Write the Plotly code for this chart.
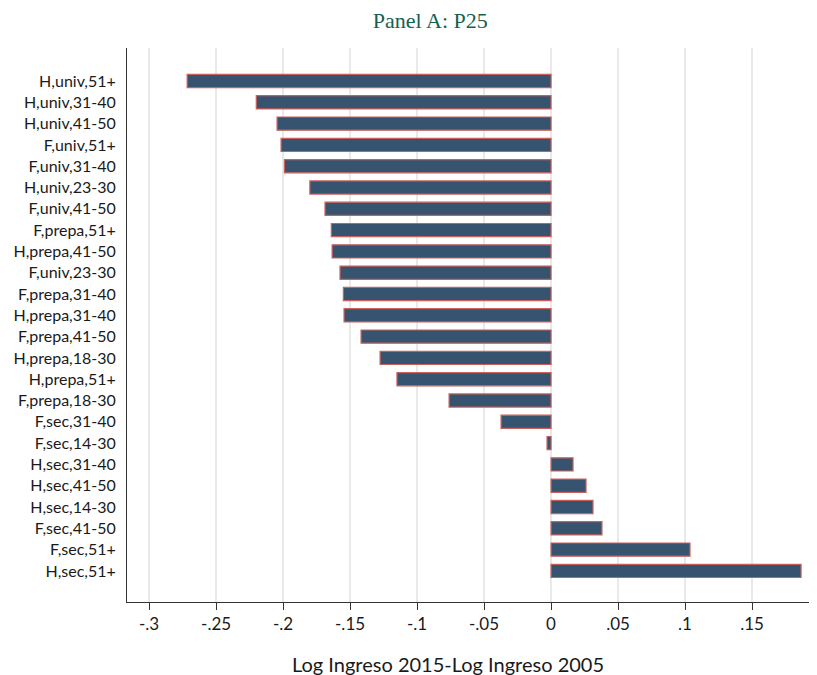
import plotly.graph_objects as go

categories = ["H,univ,51+", "H,univ,31-40", "H,univ,41-50", "F,univ,51+", "F,univ,31-40",
              "H,univ,23-30", "F,univ,41-50", "F,prepa,51+", "H,prepa,41-50", "F,univ,23-30",
              "F,prepa,31-40", "H,prepa,31-40", "F,prepa,41-50", "H,prepa,18-30", "H,prepa,51+",
              "F,prepa,18-30", "F,sec,31-40", "F,sec,14-30", "H,sec,31-40", "H,sec,41-50",
              "H,sec,14-30", "F,sec,41-50", "F,sec,51+", "H,sec,51+"]
values = [-0.2716, -0.2200, -0.2045, -0.2015, -0.1990,
          -0.1800, -0.1687, -0.1640, -0.1634, -0.1575,
          -0.1550, -0.1545, -0.1418, -0.1276, -0.1150,
          -0.0761, -0.0373, -0.0030, 0.0164, 0.0261,
          0.0313, 0.0380, 0.1037, 0.1866]
tick_vals = [-0.3, -0.25, -0.2, -0.15, -0.1, -0.05, 0, 0.05, 0.1, 0.15]
tick_text = ["-.3", "-.25", "-.2", "-.15", "-.1", "-.05", "0", ".05", ".1", ".15"]

fig = go.Figure(go.Bar(
    x=values, y=categories, orientation="h",
    marker=dict(color="#36546f", line=dict(color="#c8605c", width=1.2)),
    width=0.62,
))

fig.update_layout(
    width=809, height=667,
    margin=dict(l=119, r=0, t=40, b=73, autoexpand=False),
    paper_bgcolor="white", plot_bgcolor="white",
    showlegend=False,
    title=dict(text="Panel A: P25", x=0.522, xanchor="center", y=0.981, yanchor="middle",
               font=dict(family="Liberation Serif", size=22, color="#15614f")),
    font=dict(family="Lato", size=17, color="#1a1a1a"),
    bargap=0.38,
)
fig.add_annotation(
    text="Log Ingreso 2015-Log Ingreso 2005", xref="paper", yref="paper",
    x=0.465, y=-0.112, xanchor="center", yanchor="middle", showarrow=False,
    font=dict(family="Lato", size=20, color="#1a1a1a"),
)
fig.update_xaxes(
    range=[-0.3165, 0.1985], tickvals=tick_vals, ticktext=tick_text,
    showgrid=True, gridcolor="#e9e9e9", gridwidth=2,
    zeroline=False, showline=True, linecolor="#333", linewidth=1,
    ticks="outside", ticklen=7, tickcolor="#333",
    tickfont=dict(size=17), automargin=False,
)
fig.update_yaxes(
    categoryorder="array", categoryarray=categories[::-1],
    range=[-1.46, 24.55],
    showgrid=False, zeroline=False, showline=True, linecolor="#333", linewidth=1,
    ticks="", ticklabelstandoff=7, automargin=False,
    tickfont=dict(size=16),
)

fig.write_html("out.html")
